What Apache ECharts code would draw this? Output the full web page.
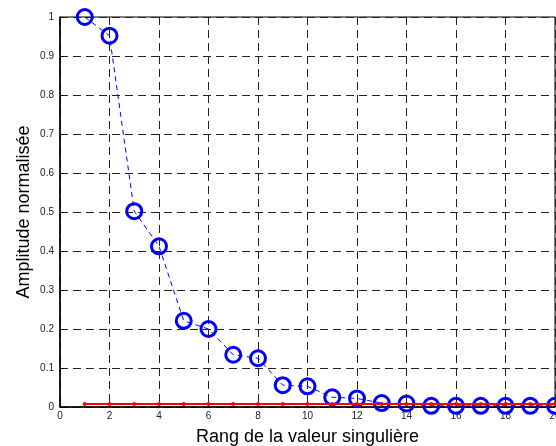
<!DOCTYPE html>
<html><head><meta charset="utf-8">
<script src="https://cdn.jsdelivr.net/npm/echarts@6/dist/echarts.min.js"></script>
<style>html,body{margin:0;padding:0;background:#fff;}#c{width:556px;height:446px;}</style>
</head><body><div id="c"></div>
<script>
const ranks = [1,2,3,4,5,6,7,8,9,10,11,12,13,14,15,16,17,18,19,20];
const singularValues = [1, 0.952, 0.502, 0.412, 0.221, 0.200, 0.134, 0.125, 0.056, 0.053, 0.025, 0.022, 0.010, 0.009, 0.003, 0.003, 0.003, 0.003, 0.003, 0.003];
const thresholdValues = [0.008,0.008,0.008,0.008,0.008,0.008,0.008,0.008,0.008,0.008,0.008,0.008,0.008,0.008,0.008,0.008,0.008,0.008,0.008,0.008];
const xTitle = 'Rang de la valeur singulière';
const yTitle = 'Amplitude normalisée';

const chart = echarts.init(document.getElementById('c'), null, {renderer:'canvas'});
const font = 'Liberation Sans, Arial, sans-serif';
chart.setOption({
  animation:false,
  backgroundColor:'#fff',
  grid:{left:60,right:1,top:17,bottom:39,show:true,borderColor:'#000',borderWidth:1,containLabel:false,outerBoundsMode:'none'},
  xAxis:{type:'value',min:0,max:20,interval:2,
    name:xTitle,nameLocation:'middle',nameGap:21,nameMoveOverlap:false,
    nameTextStyle:{fontFamily:font,fontSize:18,color:'#000'},
    axisLine:{lineStyle:{color:'#000',width:1.5}},
    axisTick:{show:true,inside:true,length:4,lineStyle:{color:'#000'}},
    axisLabel:{fontFamily:font,fontSize:10,color:'#222',margin:4},
    splitLine:{show:true,lineStyle:{color:'#222',type:[8,5],width:1}}},
  yAxis:{type:'value',min:0,max:1,interval:0.1,
    name:yTitle,nameLocation:'middle',nameGap:27,nameMoveOverlap:false,
    nameTextStyle:{fontFamily:font,fontSize:18,color:'#000'},
    axisLine:{lineStyle:{color:'#000',width:1.5}},
    axisTick:{show:true,inside:true,length:4,lineStyle:{color:'#000'}},
    axisLabel:{fontFamily:font,fontSize:10,color:'#222',margin:6},
    splitLine:{show:true,lineStyle:{color:'#222',type:[8,5],width:1}}},
  series:[
    {type:'line',data:ranks.map((r,i)=>[r,singularValues[i]]),
     symbol:'circle',symbolSize:15,
     itemStyle:{color:'rgba(0,0,0,0)',borderColor:'#0000ff',borderWidth:3},
     lineStyle:{color:'#0000ff',width:1,type:[5,4]},z:2},
    {type:'line',data:ranks.map((r,i)=>[r,thresholdValues[i]]),
     symbol:'circle',symbolSize:4,
     itemStyle:{color:'#ff0000'},
     lineStyle:{color:'#ff0000',width:2},z:3}
  ]
});
</script></body></html>
